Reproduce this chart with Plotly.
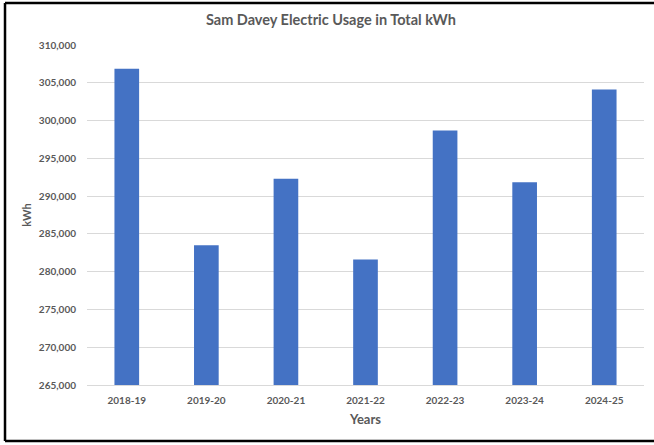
import plotly.graph_objects as go

years = ["2018-19", "2019-20", "2020-21", "2021-22", "2022-23", "2023-24", "2024-25"]
usage_kwh = [306850, 283500, 292300, 281600, 298700, 291850, 304120]

y_ticks = list(range(265000, 310001, 5000))
title_text = "Sam Davey Electric Usage in Total kWh"
x_title = "Years"
y_title = "kWh"

font_family = "Lato, 'Open Sans', sans-serif"
grey = "#595959"

fig = go.Figure(
    go.Bar(
        x=years,
        y=usage_kwh,
        marker=dict(color="#4472C4", line=dict(width=0)),
        width=0.31,
    )
)

fig.update_layout(
    width=654,
    height=445,
    margin=dict(l=87, r=10, t=45, b=60),
    paper_bgcolor="white",
    plot_bgcolor="white",
    showlegend=False,
    title=dict(
        text=title_text,
        x=0.506,
        xref="container",
        xanchor="center",
        y=0.955,
        yref="container",
        yanchor="middle",
        font=dict(family=font_family, size=14.5, color=grey, weight="bold"),
    ),
    font=dict(family=font_family, color=grey),
)

fig.update_yaxes(
    range=[265000, 310000],
    tickvals=y_ticks,
    tickformat=",",
    showgrid=True,
    gridcolor="#D9D9D9",
    gridwidth=1,
    zeroline=False,
    showline=False,
    ticks="",
    ticklabelstandoff=10,
    tickfont=dict(family=font_family, size=10, color=grey, weight="bold"),
    title=dict(text=y_title, standoff=4, font=dict(family=font_family, size=11, color=grey, weight="bold")),
)

fig.update_xaxes(
    showline=True,
    linecolor="#D9D9D9",
    linewidth=1,
    ticks="",
    showgrid=False,
    ticklabelstandoff=6,
    tickfont=dict(family=font_family, size=10, color=grey, weight="bold"),
    title=dict(text=x_title, standoff=9, font=dict(family=font_family, size=13, color=grey, weight="bold")),
)

# chart frame: left, top and bottom edges (right edge lies outside the view)
bx0, bx1, by0, by1 = -0.1472, 1.03, -0.1647, 1.1235
for x0, y0, x1, y1 in [(bx0, by0, bx0, by1), (bx0, by1, bx1, by1), (bx0, by0, bx1, by0)]:
    fig.add_shape(
        type="line",
        xref="paper",
        yref="paper",
        x0=x0, y0=y0, x1=x1, y1=y1,
        line=dict(color="black", width=2.5),
        layer="above",
    )

fig.write_html(
    "out.html",
    config={"displayModeBar": False},
    post_script="document.documentElement.style.overflow='hidden';document.body.style.margin='0';document.body.style.overflow='hidden';",
)
